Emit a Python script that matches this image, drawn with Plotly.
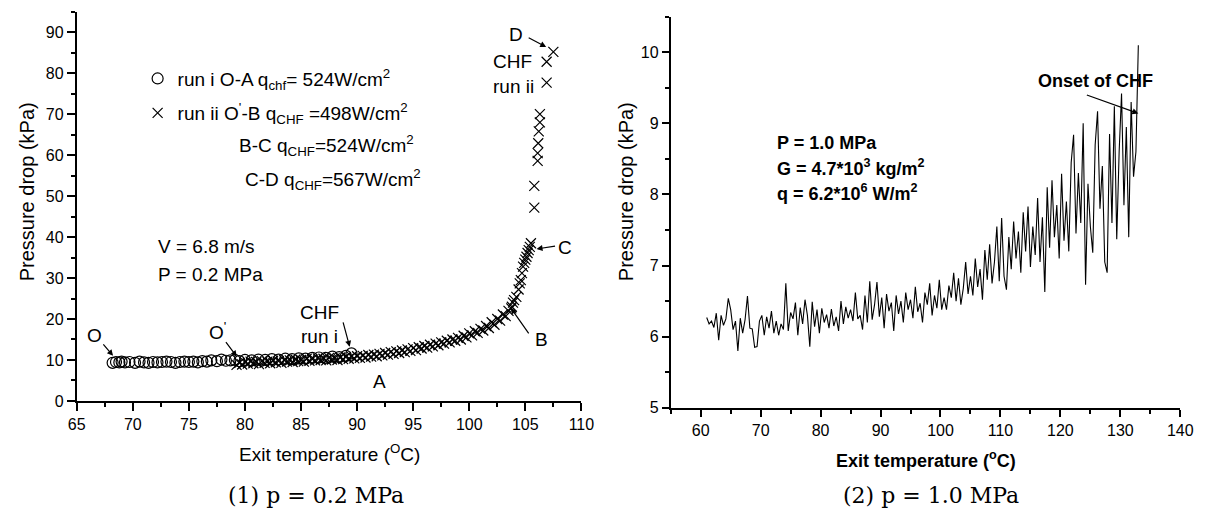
import plotly.graph_objects as go

# ---------------- data ----------------
# Panel (1): p = 0.2 MPa, run i (circles)
run1_x = [68.2, 68.5, 68.8, 69.0, 69.3, 69.7, 70.2, 70.6, 71.0, 71.4, 71.8, 72.2, 72.6, 73.0, 73.4, 73.8,
          74.2, 74.6, 75.0, 75.4, 75.8, 76.2, 76.6, 77.0, 77.5, 77.9, 78.3, 78.7, 79.1, 79.5, 80.0, 80.6,
          81.2, 81.8, 82.4, 83.0, 83.6, 84.2, 84.8, 85.4, 86.0, 86.6, 87.2, 87.8, 88.4, 89.0, 89.5]
run1_y = [9.3, 9.5, 9.4, 9.6, 9.4, 9.5, 9.3, 9.6, 9.4, 9.3, 9.5, 9.4, 9.5, 9.6, 9.5, 9.3,
          9.5, 9.6, 9.5, 9.6, 9.4, 9.7, 9.6, 9.9, 9.7, 10.1, 9.8, 9.9, 10.0, 9.7, 10.0, 9.9,
          10.1, 10.0, 10.2, 10.1, 10.3, 10.2, 10.4, 10.3, 10.5, 10.6, 10.5, 10.8, 10.7, 11.0, 11.6]

# Panel (1): run ii (crosses), segments O'-B, B-C, C-D
run2_x = [79.25, 79.5, 79.75, 80.0, 80.25, 80.5, 80.75, 81.0, 81.25, 81.5,
          81.75, 82.0, 82.25, 82.5, 82.75, 83.0, 83.25, 83.5, 83.75, 84.0,
          84.25, 84.5, 84.75, 85.0, 85.25, 85.5, 85.75, 86.0, 86.25, 86.5,
          86.75, 87.0, 87.25, 87.5, 87.75, 88.0, 88.25, 88.5, 88.75, 89.0,
          89.25, 89.5, 89.75, 90.0, 90.25, 90.5, 90.75, 91.0, 91.25, 91.5,
          91.75, 92.0, 92.25, 92.5, 92.75, 93.0, 93.25, 93.5, 93.75, 94.0,
          94.25, 94.5, 94.75, 95.0, 95.25, 95.5, 95.75, 96.0, 96.25, 96.5,
          96.75, 97.0, 97.25, 97.5, 97.75, 98.0, 98.25, 98.5, 98.75, 99.0,
          99.25, 99.5, 99.75, 100.0, 100.25, 100.5, 100.75, 101.0, 101.25, 101.5,
          101.75, 102.0, 102.25, 102.5, 102.75, 103.0, 103.25, 103.5, 103.75,
          103.8, 103.9, 104.0, 104.2, 104.4, 104.5, 104.6, 104.7, 104.8, 104.9,
          105.0, 105.1, 105.2, 105.3, 105.4, 105.5,
          105.8, 105.8, 106.1, 106.1, 106.15, 106.2, 106.3, 106.3, 106.9, 106.9, 107.5]
run2_y = [8.8, 9.3, 8.9, 9.4, 9.1, 9.6, 9.2, 9.5, 9.0, 9.7,
          9.3, 9.6, 9.2, 9.8, 9.4, 9.7, 9.3, 10.0, 9.6, 9.9,
          9.5, 10.1, 9.7, 10.0, 9.6, 10.3, 9.8, 10.2, 9.9, 10.4,
          10.0, 10.3, 9.9, 10.5, 10.1, 10.4, 10.0, 10.6, 10.2, 10.7,
          10.3, 10.8, 10.4, 10.9, 10.5, 11.0, 10.6, 11.2, 10.8, 11.3,
          10.9, 11.5, 11.1, 11.7, 11.3, 11.9, 11.5, 12.1, 11.7, 12.3,
          11.9, 12.6, 12.2, 12.9, 12.4, 13.1, 12.8, 13.4, 13.0, 13.7,
          13.3, 14.0, 13.6, 14.3, 14.0, 14.7, 14.3, 15.0, 14.7, 15.4,
          15.0, 15.9, 15.5, 16.5, 16.0, 17.0, 16.6, 17.6, 17.2, 18.3,
          17.8, 19.2, 18.6, 20.0, 19.6, 21.1, 20.7, 22.0, 22.6,
          23.0, 24.0, 24.6, 25.4, 27.2, 28.7, 29.5, 31.2, 32.8, 33.7,
          34.5, 35.2, 36.1, 36.8, 37.6, 38.5,
          47.2, 52.5, 58.6, 60.5, 62.9, 65.8, 68.0, 70.0, 77.7, 82.8, 85.2]

# Panel (2): p = 1.0 MPa, noisy pressure-drop trace
p2_x = [61.0, 61.4, 61.8, 62.2, 62.6, 63.0, 63.4, 63.8, 64.2, 64.6,
        65.0, 65.4, 65.8, 66.2, 66.6, 67.0, 67.4, 67.8, 68.2, 68.6,
        69.0, 69.4, 69.8, 70.2, 70.6, 71.0, 71.4, 71.8, 72.2, 72.6,
        73.0, 73.4, 73.8, 74.2, 74.6, 75.0, 75.4, 75.8, 76.2, 76.6,
        77.0, 77.4, 77.8, 78.2, 78.6, 79.0, 79.4, 79.8, 80.2, 80.6,
        81.0, 81.4, 81.8, 82.2, 82.6, 83.0, 83.4, 83.8, 84.2, 84.6,
        85.0, 85.4, 85.8, 86.2, 86.6, 87.0, 87.4, 87.8, 88.2, 88.6,
        89.0, 89.4, 89.8, 90.2, 90.6, 91.0, 91.4, 91.8, 92.2, 92.6,
        93.0, 93.4, 93.8, 94.2, 94.6, 95.0, 95.4, 95.8, 96.2, 96.6,
        97.0, 97.4, 97.8, 98.2, 98.6, 99.0, 99.4, 99.8, 100.2, 100.6,
        101.0, 101.4, 101.8, 102.2, 102.6, 103.0, 103.4, 103.8, 104.2, 104.6,
        105.0, 105.4, 105.8, 106.2, 106.6, 107.0, 107.4, 107.8, 108.2, 108.6,
        109.0, 109.4, 109.8, 110.2, 110.6, 111.0, 111.4, 111.8, 112.2, 112.6,
        113.0, 113.4, 113.8, 114.2, 114.6, 115.0, 115.4, 115.8, 116.2, 116.6,
        117.0, 117.4, 117.8, 118.2, 118.6, 119.0, 119.4, 119.8, 120.2, 120.6,
        121.0, 121.4, 121.8, 122.2, 122.6, 123.0, 123.4, 123.8, 124.2, 124.6,
        125.0, 125.4, 125.8, 126.2, 126.6, 127.0, 127.4, 127.8, 128.2, 128.6,
        129.0, 129.4, 129.8, 130.2, 130.6, 131.0, 131.4, 131.8, 132.2, 132.6,
        133.0]
p2_y = [6.27, 6.18, 6.22, 6.13, 6.33, 5.95, 6.30, 6.16, 6.25, 6.54,
        6.38, 6.10, 6.22, 5.80, 6.26, 6.05, 6.24, 6.57, 6.12, 6.11,
        5.85, 5.86, 6.22, 6.30, 6.02, 6.28, 6.12, 6.36, 6.05, 6.22,
        6.02, 6.18, 6.10, 6.75, 6.08, 6.34, 6.25, 6.48, 6.02, 6.41,
        6.18, 6.52, 6.30, 5.86, 6.49, 6.14, 6.38, 6.05, 6.40, 6.20,
        6.31, 6.12, 6.39, 6.15, 6.28, 6.08, 6.50, 6.18, 6.42, 6.26,
        6.38, 6.22, 6.62, 6.25, 6.30, 6.10, 6.58, 6.20, 6.78, 6.24,
        6.45, 6.77, 6.28, 6.55, 6.12, 6.60, 6.36, 6.48, 6.08, 6.58,
        6.32, 6.50, 6.20, 6.62, 6.38, 6.52, 6.26, 6.70, 6.35, 6.47,
        6.20, 6.62, 6.45, 6.75, 6.30, 6.58, 6.40, 6.80, 6.38, 6.55,
        6.38, 6.72, 6.55, 6.90, 6.50, 6.82, 6.45, 6.68, 7.05, 6.60,
        6.85, 6.58, 7.10, 6.70, 6.95, 6.52, 7.22, 6.80, 7.30, 6.75,
        7.05, 7.55, 6.78, 7.67, 6.85, 6.66, 7.40, 6.95, 7.62, 7.10,
        7.48, 6.90, 7.75, 7.20, 7.83, 6.98, 7.55, 7.15, 7.95, 7.05,
        7.68, 6.63, 8.10, 7.25, 8.20, 7.40, 7.85, 7.10, 8.29, 7.35,
        7.90, 7.20, 8.45, 8.84, 7.45, 8.30, 7.60, 9.00, 6.73, 8.15,
        7.55, 7.18, 8.70, 9.17, 7.80, 8.40, 7.05, 6.90, 8.85, 7.60,
        9.24, 7.37, 8.60, 9.42, 7.85, 8.95, 7.40, 9.30, 8.25, 8.60,
        10.1]

# tick definitions
x1_ticks = [65, 70, 75, 80, 85, 90, 95, 100, 105, 110]
y1_ticks = [0, 10, 20, 30, 40, 50, 60, 70, 80, 90]
x2_ticks = [60, 70, 80, 90, 100, 110, 120, 130, 140]
y2_ticks = [5, 6, 7, 8, 9, 10]

# ---------------- figure ----------------
W, H = 1209, 518
FONT = "Arial, Liberation Sans, sans-serif"
SERIF = "DejaVu Serif, Liberation Serif, serif"
TXT = 19


def px(x):
    return x / W


def py(y):
    return 1 - y / H


fig = go.Figure()

fig.add_trace(go.Scatter(
    x=run2_x, y=run2_y, mode="markers", xaxis="x", yaxis="y",
    marker=dict(symbol="x-thin-open", size=10, color="black", line=dict(width=1.2, color="black")),
    name="run ii O<sup>'</sup>-B q<sub>CHF</sub> =498W/cm<sup>2</sup>", legend="legend2"))
fig.add_trace(go.Scatter(
    x=run1_x, y=run1_y, mode="markers", xaxis="x", yaxis="y",
    marker=dict(symbol="circle-open", size=11, color="black", line=dict(width=1.2, color="black")),
    name="run i O-A q<sub>chf</sub>= 524W/cm<sup>2</sup>", legend="legend"))
fig.add_trace(go.Scatter(
    x=p2_x, y=p2_y, mode="lines", xaxis="x2", yaxis="y2",
    line=dict(color="black", width=1.1), showlegend=False))


def axis(domain, rng, ticks, minor_dtick, anchor, tlen=8):
    return dict(
        domain=domain, range=rng, anchor=anchor, tickmode="array", tickvals=ticks,
        ticks="outside", ticklen=tlen, tickwidth=1.5, tickcolor="black",
        showline=True, linewidth=2, linecolor="black", showgrid=False, zeroline=False,
        minor=dict(ticks="outside", ticklen=4, tickwidth=1.5, tickcolor="black",
                   dtick=minor_dtick, tick0=ticks[0], showgrid=False),
        tickfont=dict(family=FONT, size=16, color="black"),
    )


legend_common = dict(xanchor="left", yanchor="middle", bgcolor="rgba(0,0,0,0)", borderwidth=0,
                     font=dict(family=FONT, size=TXT, color="black"), itemclick=False)

fig.update_layout(
    width=W, height=H, margin=dict(l=0, r=0, t=0, b=0),
    paper_bgcolor="white", plot_bgcolor="white",
    xaxis=axis([px(69), px(583)], [65, 110], x1_ticks, 2.5, "y"),
    yaxis=axis([py(408), py(12)], [0, 95], y1_ticks, 5, "x"),
    xaxis2=axis([px(674), px(1193)], [55, 140], x2_ticks, 5, "y2", tlen=7),
    yaxis2=axis([py(415), py(17)], [5, 10.5], y2_ticks, 0.5, "x2", tlen=7),
    legend=dict(x=px(131), y=py(80), **legend_common),
    legend2=dict(x=px(131), y=py(115), **legend_common),
    showlegend=True,
)

ann = []


def text(x, y, s, size=TXT, anchor="center", bold=False, font=FONT, angle=0):
    if bold:
        s = "<b>" + s + "</b>"
    ann.append(dict(x=px(x), y=py(y), xref="paper", yref="paper", text=s, showarrow=False,
                    xanchor=anchor, yanchor="middle", textangle=angle,
                    font=dict(family=font, size=size, color="black")))


def arrow(x, y, ax, ay, xr="x", yr="y"):
    ann.append(dict(x=x, y=y, xref=xr, yref=yr, ax=ax, ay=ay, text="", showarrow=True,
                    arrowhead=2, arrowsize=1, arrowwidth=1.2, arrowcolor="black"))


# left panel texts
text(232, 148, "B-C q<sub>CHF</sub>=524W/cm<sup>2</sup>", anchor="left")
text(238, 183, "C-D q<sub>CHF</sub>=567W/cm<sup>2</sup>", anchor="left")
text(150, 251, "V = 6.8 m/s", anchor="left")
text(150, 279, "P = 0.2 MPa", anchor="left")
text(87, 341, "O")
text(212, 337, "O<sup>'</sup>")
text(316, 318, "CHF")
text(316, 342, "run i")
text(377, 388, "A")
text(542, 345, "B")
text(566, 252, "C")
text(516, 35, "D")
text(513, 63, "CHF")
text(514, 88, "run ii")
text(18, 195, "Pressure drop (kPa)", size=20, angle=-90)
text(326, 461, "Exit temperature (<sup>O</sup>C)")
text(313, 504, "(1) p = 0.2 MPa", size=22, font=SERIF)

# left panel arrows (head in data coords, tail offsets in px)
arrow(68.24, 11.0, -11, -13)
arrow(79.27, 10.8, -12, -16)
arrow(89.34, 13.2, -7, -26)
arrow(103.7, 22.7, 19, 27)
arrow(106.0, 37.1, 20, -3)
arrow(106.86, 86.4, -19, -10)

# right panel texts
text(780, 146, "P = 1.0 MPa", size=18, anchor="left", bold=True)
text(780, 170, "G = 4.7*10<sup>3</sup> kg/m<sup>2</sup>", size=18, anchor="left", bold=True)
text(780, 196, "q = 6.2*10<sup>6</sup> W/m<sup>2</sup>", size=18, anchor="left", bold=True)
text(1107, 82, "Onset of CHF", size=18, bold=True)
text(628, 195, "Pressure drop (kPa)", size=20, angle=-90)
text(934, 468, "Exit temperature (<sup>o</sup>C)", size=18, bold=True)
text(939, 504, "(2) p = 1.0 MPa", size=22, font=SERIF)
arrow(133.0, 9.14, -53, -19, "x2", "y2")

fig.update_layout(annotations=ann)
fig.write_html("out.html")
